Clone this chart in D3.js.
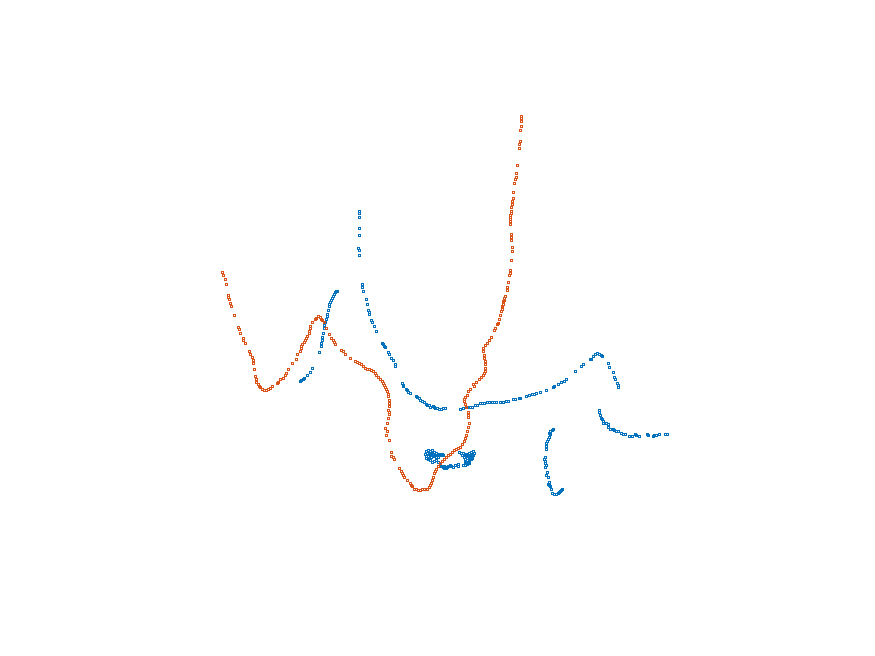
<!DOCTYPE html>
<html>
<head>
<meta charset="utf-8">
<script src="https://cdn.jsdelivr.net/npm/d3@7"></script>
<style>
  html, body { margin: 0; padding: 0; background: #ffffff; }
  svg { display: block; }
</style>
</head>
<body>
<div id="chart"></div>
<script>
// Series 1 (orange) — [x, y] in data units
const seriesOrange = [
  [122.3,327.7],[123.3,325],[125,321],[126.3,315.7],[128.3,304.3],[128.3,302.3],[129.3,300.3],[130.3,296.3],
  [131.3,293.7],[134.3,284.7],[138.3,272.7],[139.3,270.7],[140.3,266.7],[143.3,261.3],[143.3,259.3],[145.3,256.7],
  [149.3,248.7],[150.3,245.7],[152.3,242.7],[153.3,239.7],[153.3,236.7],[154.3,230.7],[155.3,223.7],[156.3,220.7],
  [156.3,217.7],[158.3,215.7],[159.3,213.7],[160.3,212.3],[162.3,210.7],[164.3,209.7],[166.3,209.3],[168.3,210.7],
  [170.3,211.3],[172.3,213.7],[177.3,216.7],[178.3,217.7],[180.3,220.7],[183.3,221.7],[185.3,224.7],[186.3,226.7],
  [188.3,230.7],[192.3,236.7],[196.3,240.7],[197.3,245.7],[200.3,248.7],[201.3,251.7],[201.3,253.7],[202.3,255.7],
  [204.3,257.7],[205.3,259.7],[206.3,261.7],[207.3,263.7],[209.3,266.7],[209.3,269],[210.3,271.7],[210.3,273.7],
  [212.3,277.7],[215.3,280.7],[216.7,281.7],[218.3,283.3],[220,282.3],[221.3,281],[222.7,279.7],[224.3,277.7],
  [226.3,271.7],[229.3,265.7],[231.3,262],[233.3,259.3],[234.3,257.3],[235.3,255.7],
  [241.3,249.7],[243.3,248.7],[245.3,245.7],[250.3,241.7],[255.3,238.7],[257.3,237.7],[259.3,236.7],[261.3,235.7],
  [263.3,233.7],[265.3,231.7],[267.3,231],[269.3,230.7],[271.3,229.7],[273.3,228.7],[275.3,226.7],[276.7,224.7],
  [278.3,222.7],[280,220.7],[282.3,218.3],[283.3,216.7],[284.3,214.7],[285.3,212.7],[286.7,210.7],[287.3,208.3],
  [288.3,206],[288.7,203.3],[289.3,200],[289.3,196.7],[289.3,193.3],[288.7,190],[289.3,188],[289,186],[288.7,181.7],
  [287.3,176],[285.3,171.3],[287.3,168.3],[286.3,164.7],[289,159.7],[291.3,147.7],[291.3,143.7],[293.3,142.7],
  [294.3,140.7],[299.3,131.7],[301.3,128.7],[302.3,126.7],[303.3,124.7],[304.3,122.7],[307.3,119.7],[310.3,116.7],
  [311.3,114.7],[312.3,113.7],[314.3,110.7],[316.3,110.7],[318.3,109.7],[320.3,109.7],[322.3,110.7],[324.3,110.7],
  [327.3,110.7],[329.3,112.7],[330.3,114.7],[331.3,116.7],[332.3,119.7],[333.3,122.7],[334.3,126.7],[335.3,128.7],
  [336.3,130.7],[338.3,133.7],[340.3,136.7],[342.3,138.7],[344.3,140.7],[346.3,142.7],[348.3,144.7],[350.3,146],
  [352.3,147.7],[354.3,149],[356.3,150.3],[358.3,151.3],[360.3,153],[362.3,155.7],[364.3,158.7],[365.3,161.7],
  [366.3,164.7],[367.3,168.7],[368.3,172.7],[369.3,176.7],
  [368.3,182.7],[368.3,184.7],[368.3,187.7],[366.3,192.7],[365.3,195.7],[364.3,198.7],[364.3,200.7],[365.3,202.7],
  [367.3,204.7],[368.3,208.7],[370.3,210.7],[374.3,213.7],[373.3,215.7],[376.3,217.7],[379.3,220.7],[381.3,222.7],
  [383.3,224.7],[384.3,226.7],[385.3,228.7],[385.3,231.7],[385.3,235.7],[385.3,238.7],[384.3,241.7],[384.3,244.7],
  [383.3,248.7],[383.3,251.7],[385.3,254.7],[387.3,256.7],[389.3,259.7],[391.3,262.7],[394.3,269.7],[395.3,271.7],
  [397.3,275.7],[398.3,276.7],[399.3,280.7],[400.3,284.3],[401.3,288.3],[402.3,290.7],[402.3,292.7],[402.3,293.3],
  [403.3,295.7],[403.3,297.7],[403.3,298.3],[404.3,299.7],[404.3,301.7],
  [405.3,303.7],[407.3,309.7],[407.3,312.7],[408.3,317.7],[409.3,324.7],[410.3,326.7],[410.3,329.7],[411.3,339.7],
  [412.3,348.7],[412.3,352.7],[411.3,359.7],[411.3,362.7],[411.3,365.7],[410.3,375.7],[410.3,378.7],[410.3,380.7],
  [410.3,382.7],[410.3,384.7],[411.3,386.7],[411.3,388.7],[411.3,392.7],[412.3,395.7],[412.3,398.7],[413.3,401.7],
  [413.3,407.7],[414.3,416.7],[415.3,420.7],[416.3,422.7],[416.3,426.7],[417.3,434.7],[419.3,451.7],[419.3,455.7],
  [420.3,458.7],[420.3,469.7],[421.3,473.7],[421.3,478.7],[421.3,481.7],[421.3,484]
];

// Series 2 (blue) — [x, y] in data units
const seriesBlue = [
  // segment A
  [200.3,218.3],[201.3,219.3],[203.3,220.3],[204.3,221.3],[207.3,224.3],[210.3,227.7],[212.3,231.7],[219.3,247.7],
  [221.3,253.7],[221.3,256.3],[222.3,259.7],[222.3,262.7],[223.3,266.3],[224.3,271.7],[224.3,275],[225.3,277.7],
  [226.3,280.7],[227.3,283.7],[227.3,285.7],[228.3,289.7],[229.3,293.7],[229.3,295.7],[230.3,297.7],[231.3,299.7],
  [232.3,301.7],[233.3,303.7],[234.3,305.7],[235.3,307.7],[236.3,308.7],[237.3,309],
  // segment B
  [259.3,388.7],[259.3,386.7],[259.3,382.7],[259.3,371.7],[259.3,364.7],[258.3,351.7],[259.3,349.7],[259.3,344.7],
  [262.3,315.7],[262.3,312.7],[263.3,308.7],[266.3,300.7],[267.3,295.7],[268.3,289.7],[269.3,287.7],[269.3,285.7],
  [271.3,279.7],[272.3,277.7],[274.3,273.7],[276.3,268.7],[282.3,256.7],[283.3,255.3],[284.3,253.7],[285.3,252.7],
  [288.3,247.7],[289.3,245.7],[291.3,241.7],[293.3,239.7],[295.3,235.7],[295.3,233.7],[302.3,216.7],[303.3,214.7],
  [303.3,213.3],[306.3,210.7],[307.3,209.7],[308.7,207.7],[310.3,206.7],[316.3,203.7],[317.3,202.7],[319.3,201.7],
  [320.3,199.7],[322.3,198.7],[324.3,197.7],[326.3,195.7],[327.3,194.7],[329.3,194.7],[330.3,192.7],[333.3,193.7],
  [334.3,192.7],[335.3,191.7],[337.3,191.7],[339.3,190.7],[341.3,190.7],[343.3,191.7],[345.3,191.7],
  [360.3,190.7],[363.3,191.7],[367.3,192.7],[370.3,192.7],[372.3,192.7],[375.3,194.7],[377.3,194.7],[380.3,196.7],
  [382.3,196.7],[384.3,196.7],[387.3,197.7],[389.3,197.7],[392.3,197.7],[394.3,197.7],[396.3,197.7],[400.3,197.7],
  [403.3,197.7],[406.3,198.7],[408.3,198.7],[413.3,200.7],[415.3,200.7],[419.3,201.7],[420.3,201.7],[426.3,203.7],
  [429.3,204.7],[432.3,205.7],[434.3,205.7],[436.3,206.7],[440.3,207.7],[446.3,209.7],[453.3,212.7],[454.3,213.7],
  [458.3,215.7],[461.3,217.7],[464.3,218.7],[466.3,220.7],[475.3,228.7],[481.3,233.7],[483.3,235.7],[490.3,240.7],
  [491.3,240.7],[493.3,243.7],[495.3,245.7],[497.3,246.7],[499.3,245.7],[501.3,244.7],[502.3,243.7],[508.3,236.7],
  [509.3,232.7],[513.3,227.7],[514.3,222.7],[515.3,220.7],[517.3,216.7],[518.3,214.7],[518.3,212.7],
  // segment C
  [499.3,189.7],[499.3,187.7],[500.3,184.7],[501.3,181.7],[502.3,180.7],[503.3,178.7],[503.3,176.7],[506.3,176.7],
  [508.3,175.7],[508.3,172.7],[510.3,170.7],[513.3,170.7],[514.3,169.7],[516.3,168.7],[518.3,168.7],[521.3,166.7],
  [523.3,165.7],[525.3,165.7],[529.3,163.7],[532.3,163.7],[535.3,165.7],[536.3,164.7],[539.3,163.7],[547.3,165.7],
  [548.3,164.7],[553.3,163.7],[554.3,164.7],[556.3,164.7],[559.3,165.7],[565.3,165.7],[567.3,165.7],
  // segment D
  [453.3,170.7],[452.3,169.7],[450.3,168.7],[449.3,166.7],[450.3,165.7],[449.3,162.7],[448.3,160.7],[447.3,158.7],
  [446.3,156.7],[446.3,153.7],[446.3,150.7],[445.3,142.7],[444.3,140.7],[445.3,138.7],[445.3,136.7],[446.3,134.7],
  [445.3,132.7],[447.3,127.7],[446.3,124.7],[448.3,122.7],[449.3,117.7],[448.3,115.7],[449.3,114.7],[450.3,113.7],
  [451.3,110.7],[452.3,106.7],[454.3,105.7],[456.3,105.7],[458.3,106.7],[459.3,107.7],[460.3,108.7],[461.3,109.7],
  [462.3,110.7],
  // segment E (cluster)
  [326,148.3],[328,149.3],[330,148.3],[332,149.3],[334,147.3],[336,146.3],[338,145.3],[340,145.3],[342,145.3],
  [325,145.3],[326,143.3],[328,143.3],[330,144.3],[332,145.3],[334,143.3],[336,142.3],[326,141.3],[328,140.3],
  [330,139.3],[332,137.3],[334,138.3],[336,139.3],[338,137.3],[340,135.3],[342,133.3],[344,131.3],[346,131.3],
  [348,133.3],[350,134.3],[344,133.3],[355.3,134.7],[358.3,135.3],[358,133.3],
  [327,147],[329,146],[331,147],[333,145],[335,145],[337,144],[339,143],[329,142],[331,143],[341,144],[343,145],
  [341,134],[343,133],[345,133],[347,133],[349,134],[351,134],[353,133],
  [359.3,147.3],[361.3,146.3],[363.3,146.3],[365.3,145.3],[367.3,145.3],[369.3,146.3],[371.3,147.3],[373.3,148.3],
  [374.3,146.3],[373.3,144.3],[371.3,143.3],[369.3,142.3],[367.3,141.3],[365.3,140.3],[367.3,139.3],[369.3,138.3],
  [371.3,140.3],[369.3,136.3],[367.3,135.3],[365.3,134.3],[363.3,134.3],[365.3,137.3],[371.3,145.3],
  [362,145],[364,143],[366,144],[368,144],[370,142],[372,142],[366,137],[368,138],[372,145],[370,145]
];

const xDomain = [0, 700];
const yDomain = [0, 550];

const width = 875, height = 656;
const margin = { left: 100, right: 75, top: 50, bottom: 56 };

const svg = d3.select("#chart").append("svg")
  .attr("width", width).attr("height", height)
  .style("background", "#ffffff");

const x = d3.scaleLinear().domain(xDomain).range([margin.left, width - margin.right]);
const y = d3.scaleLinear().domain(yDomain).range([height - margin.bottom, margin.top]);

const series = [
  { name: "series 1", color: "#D95319", data: seriesOrange },
  { name: "series 2", color: "#0072BD", data: seriesBlue }
];

series.slice().reverse().forEach(s => {
  svg.append("g")
    .attr("class", "series")
    .selectAll("rect")
    .data(s.data)
    .join("rect")
    .attr("x", d => Math.floor(x(d[0])) - 0.5)
    .attr("y", d => Math.floor(y(d[1])) - 0.5)
    .attr("width", 2)
    .attr("height", 2)
    .attr("fill", "none")
    .attr("stroke", s.color)
    .attr("stroke-width", 1)
    .attr("shape-rendering", "crispEdges");
});
</script>
</body>
</html>
